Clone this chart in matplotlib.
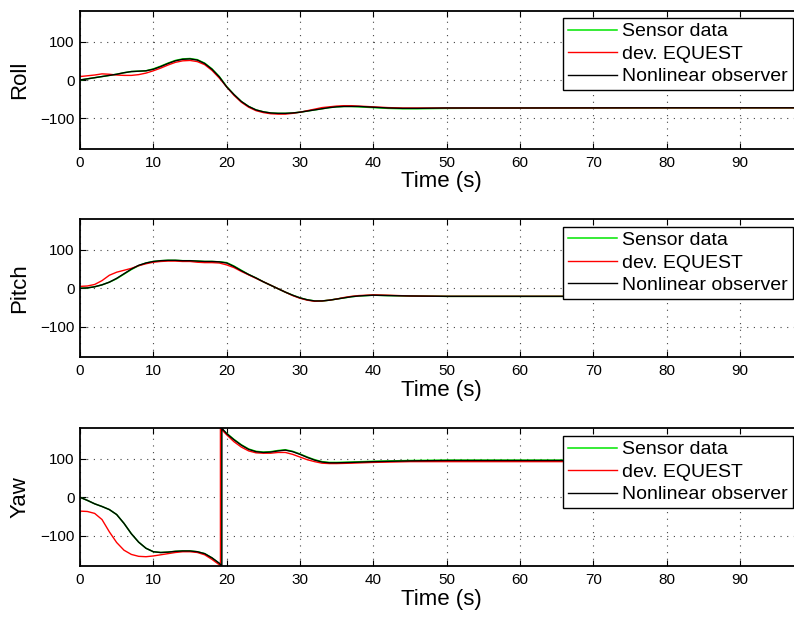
import numpy as np
import matplotlib
matplotlib.use('Agg')
import matplotlib.pyplot as plt

plt.rcParams['font.family'] = ['Liberation Sans', 'DejaVu Sans']

# ---------- 数据 (角度, 单位 deg) ----------
# Roll
t_roll = [0, 1, 2, 3, 4, 5, 6, 7, 8, 9, 10, 11, 12, 13, 14, 15, 16, 17, 18, 19,
          20, 21, 22, 23, 24, 25, 26, 27, 28, 29, 30, 31, 32, 33, 34, 35, 36, 37,
          38, 39, 40, 42, 44, 46, 50, 60, 80, 100]
roll_sensor = [0, 3, 6, 9, 12, 15, 19, 22, 23, 24, 29, 36, 44, 51, 55, 56, 53, 44,
               29, 9, -17, -38, -56, -69, -78, -83, -86, -87, -87, -86, -84, -81,
               -78, -75, -72, -70, -69, -69, -70, -71, -72, -74, -75, -75, -74,
               -73, -72.5, -72.5]
roll_equest = [9, 11, 13, 16, 15, 13, 12, 12, 14, 18, 24, 31, 39, 46, 50, 51, 48,
               40, 25, 5, -18, -40, -58, -71, -80, -85, -88, -89, -89, -87, -84,
               -80, -76, -72, -70, -68, -67, -67, -68, -69, -70, -72, -73, -73,
               -73, -73, -72.5, -72.5]
roll_observer = [0, 3, 6, 9, 12, 15, 19, 22, 23, 24, 28, 35, 43, 50, 54, 55, 52,
                 43, 28, 8, -18, -38, -56, -69, -78, -83, -86, -87, -87, -86, -84,
                 -81, -78, -75, -72, -70, -69, -69, -69, -70, -71, -73, -74, -74,
                 -73, -73, -72.5, -72.5]

# Pitch
t_pitch = [0, 1, 2, 3, 4, 5, 6, 7, 8, 9, 10, 11, 12, 13, 14, 15, 16, 17, 18, 19,
           20, 21, 22, 23, 24, 25, 26, 27, 28, 29, 30, 31, 32, 33, 34, 35, 36, 37,
           38, 39, 40, 42, 45, 50, 100]
pitch_sensor = [0, 1, 4, 9, 16, 25, 37, 49, 59, 66, 70, 72, 73, 73, 72, 72, 71,
                70, 70, 69, 67, 58, 47, 36, 27, 17, 8, -1, -10, -18, -25, -30,
                -33, -33, -31, -28, -25, -22, -20, -19, -18, -19, -20, -21, -21]
pitch_equest = [5, 6, 10, 20, 34, 42, 47, 52, 59, 64, 68, 70, 71, 71, 70, 70, 68,
                67, 67, 66, 61, 54, 44, 35, 26, 17, 8, -1, -10, -19, -26, -31,
                -34, -33, -31, -28, -24, -21, -19, -18, -17, -18, -20, -21, -21]
pitch_observer = [0, 1, 4, 9, 16, 26, 38, 50, 60, 66, 70, 72, 73, 73, 72, 72, 71,
                  70, 70, 69, 66, 57, 46, 36, 27, 17, 8, -1, -10, -18, -25, -30,
                  -33, -33, -31, -28, -25, -22, -20, -19, -18, -19, -20, -21, -21]

# Yaw (±180 跳变处保留竖直连线)
t_yaw_sensor = [0, 1, 2, 3, 4, 5, 6, 7, 8, 9, 10, 11, 12, 13, 14, 15, 16, 17, 18,
                19, 19.25, 19.25, 20, 21, 22, 23, 24, 25, 26, 27, 28, 29, 30, 31,
                32, 33, 34, 35, 37, 40, 45, 50, 100]
yaw_sensor = [0, -8, -17, -24, -32, -45, -68, -95, -117, -133, -142, -144, -143,
              -141, -140, -140, -142, -147, -158, -173, -180, 180, 167, 151, 137,
              126, 120, 118, 119, 122, 124, 120, 113, 105, 98, 93, 91, 91, 92, 94,
              96, 97, 97]
t_yaw_equest = [0, 1, 2, 3, 4, 5, 6, 7, 8, 9, 10, 11, 12, 13, 14, 15, 16, 17, 18,
                19, 19.15, 19.15, 20, 21, 22, 23, 24, 25, 26, 27, 28, 29, 30, 31,
                32, 33, 34, 35, 37, 40, 45, 100]
yaw_equest = [-36, -37, -42, -58, -90, -118, -138, -149, -154, -155, -153, -150,
              -147, -144, -142, -142, -144, -150, -162, -176, -180, 180, 163, 145,
              131, 121, 116, 115, 115, 117, 117, 112, 105, 98, 93, 89, 88, 88, 89,
              91, 93, 93]
t_yaw_observer = [0, 1, 2, 3, 4, 5, 6, 7, 8, 9, 10, 11, 12, 13, 14, 15, 16, 17, 18,
                  19, 19.35, 19.35, 20, 21, 22, 23, 24, 25, 26, 27, 28, 29, 30, 31,
                  32, 33, 34, 35, 37, 40, 45, 50, 100]
yaw_observer = [0, -8, -17, -24, -32, -45, -68, -95, -117, -133, -142, -144, -143,
                -141, -140, -140, -142, -147, -158, -172, -180, 180, 166, 150, 136,
                125, 119, 117, 118, 121, 123, 119, 112, 104, 97, 92, 90, 90, 91, 93,
                95, 96, 96]

panels = [
    ('Roll', (t_roll, roll_sensor), (t_roll, roll_equest), (t_roll, roll_observer)),
    ('Pitch', (t_pitch, pitch_sensor), (t_pitch, pitch_equest), (t_pitch, pitch_observer)),
    ('Yaw', (t_yaw_sensor, yaw_sensor), (t_yaw_equest, yaw_equest),
     (t_yaw_observer, yaw_observer)),
]

W, H = 794, 619
fig = plt.figure(figsize=(W / 100, H / 100), dpi=100)

# 坐标轴位置 (像素): 左 80, 每 10 s 约 73.3 px, 高 138 px
left_px, px_per_s = 80, 7.333
xmax = 98.5
axes_top_px = [11, 219.3, 428.3]
axes_h_px = 138
legend_top_px = [18, 226.7, 436]

for (name, s, e, o), top_px, leg_px in zip(panels, axes_top_px, legend_top_px):
    ax = fig.add_axes([left_px / W, 1 - (top_px + axes_h_px) / H,
                       xmax * px_per_s / W, axes_h_px / H])
    ax.plot(s[0], s[1], color=(0, 0.9, 0), lw=1.1, label='Sensor data')
    ax.plot(e[0], e[1], color='red', lw=1.0, label='dev. EQUEST')
    ax.plot(o[0], o[1], color='black', lw=1.0, label='Nonlinear observer')

    ax.set_xlim(0, xmax)
    ax.set_ylim(-180, 180)
    ax.set_xticks(np.arange(0, 100, 10))
    ax.set_yticks([-100, 0, 100])
    ax.set_yticklabels(['\u2212100', '0', '100'])
    ax.tick_params(direction='in', length=4, width=0.8, top=True, right=True,
                   labelsize=11)
    ax.tick_params(axis='y', pad=4)
    ax.tick_params(axis='x', pad=5)
    for sp in ax.spines.values():
        sp.set_linewidth(1.3)
    ax.grid(True, color='#444444', linestyle=(0, (1, 5)), linewidth=0.8)
    ax.set_xlabel('Time (s)', fontsize=16, labelpad=1)
    ax.set_ylabel(name, fontsize=16, labelpad=7)

    leg = ax.legend(loc='upper right', bbox_to_anchor=(793 / W, 1 - leg_px / H),
                    bbox_transform=fig.transFigure, fontsize=14, fancybox=False,
                    framealpha=1, edgecolor='black', borderaxespad=0,
                    handlelength=2.5, handletextpad=0.3, labelspacing=0.25,
                    borderpad=0.25)
    leg.get_frame().set_linewidth(1.0)
    leg.set_zorder(5)

fig.savefig('out.png', dpi=100)
